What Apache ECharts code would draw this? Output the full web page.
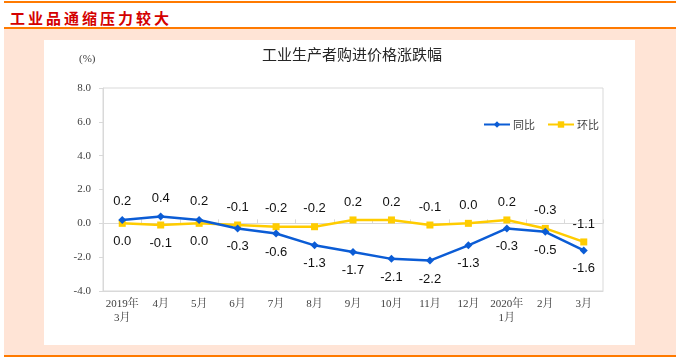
<!DOCTYPE html>
<html>
<head>
<meta charset="utf-8">
<script src="https://cdn.jsdelivr.net/npm/echarts@6/dist/echarts.min.js"></script>
<style>
  html, body { margin: 0; padding: 0; background: #ffffff; }
  #wrap { position: relative; width: 681px; height: 360px; overflow: hidden; background: #ffffff; }
  .line { position: absolute; background: #ff7a00; }
  #peach { position: absolute; left: 4px; top: 29px; width: 672px; height: 326px; background: #ffe4d6; }
  #panel { position: absolute; left: 44px; top: 40px; width: 591px; height: 305px; background: #ffffff; }
  #head { position: absolute; left: 10px; top: 8px; font-family: "Noto Sans CJK SC", sans-serif; font-weight: bold; font-size: 15px; line-height: 20px; letter-spacing: 3px; color: #d40000; }
  #chart { position: absolute; left: 0; top: 0; width: 681px; height: 360px; }
</style>
</head>
<body>
<div id="wrap">
  <div class="line" style="left:4px;top:1px;width:672px;height:2px;"></div>
  <div id="head">工业品通缩压力较大</div>
  <div class="line" style="left:4px;top:27px;width:672px;height:2px;"></div>
  <div id="peach"></div>
  <div id="panel"></div>
  <div class="line" style="left:4px;top:355px;width:672px;height:2px;"></div>
  <div id="chart"></div>
</div>
<script>
// Data
var categories = ['2019年\n3月', '4月', '5月', '6月', '7月', '8月', '9月', '10月', '11月', '12月', '2020年\n1月', '2月', '3月'];
var yoy = [0.2, 0.4, 0.2, -0.3, -0.6, -1.3, -1.7, -2.1, -2.2, -1.3, -0.3, -0.5, -1.6];   // 同比
var mom = [0.0, -0.1, 0.0, -0.1, -0.2, -0.2, 0.2, 0.2, -0.1, 0.0, 0.2, -0.3, -1.1];       // 环比
var seriesNames = ['同比', '环比'];
var chartTitle = '工业生产者购进价格涨跌幅';
var unitLabel = '(%)';

function withLabels(vals, other) {
  return vals.map(function (v, i) {
    return { value: v, label: { position: v >= other[i] ? 'top' : 'bottom' } };
  });
}

var chart = echarts.init(document.getElementById('chart'), null, { renderer: 'canvas' });
var serif = '"Liberation Serif", "Noto Serif CJK SC", "Noto Sans CJK SC", serif';
var labelStyle = {
  show: true, fontSize: 13, color: '#111', distance: 8,
  fontFamily: '"Liberation Sans", Arial, sans-serif',
  formatter: function (p) { return p.value.toFixed(1); }
};

chart.setOption({
  backgroundColor: 'transparent',
  animation: false,
  graphic: [
    { type: 'text', left: 356 - 94, top: 47, style: { text: chartTitle, fontSize: 15, fill: '#262626', fontFamily: '"Noto Sans CJK SC", sans-serif' } },
    { type: 'text', left: 79, top: 54, style: { text: unitLabel, fontSize: 11, fill: '#404040', fontFamily: serif } }
  ],
  legend: {
    left: 478, top: 114, itemWidth: 26, itemHeight: 8, itemGap: 12,
    textStyle: { fontSize: 11, color: '#404040', fontFamily: '"Noto Sans CJK SC", sans-serif', padding: [0, 0, 0, -2] },
    data: seriesNames
  },
  grid: { left: 103, top: 88, right: 78, bottom: 69, show: true, borderColor: '#d9d9d9', borderWidth: 1, backgroundColor: 'transparent' },
  xAxis: [
    {
      type: 'category', data: categories, position: 'bottom',
      axisLine: { onZero: false, lineStyle: { color: '#d9d9d9' } },
      axisTick: { show: false },
      axisLabel: { interval: 0, hideOverlap: false, color: '#404040', fontSize: 11, fontFamily: serif, margin: 6, lineHeight: 14 }
    },
    {
      type: 'category', data: categories, position: 'bottom',
      axisLine: { onZero: true, lineStyle: { color: '#d9d9d9' } },
      axisTick: { show: true, inside: true, length: 4, interval: 0, lineStyle: { color: '#d9d9d9' } },
      axisLabel: { show: false }
    }
  ],
  yAxis: {
    type: 'value', min: -4, max: 8, interval: 2,
    axisLine: { show: true, lineStyle: { color: '#d9d9d9' } },
    axisTick: { show: true, length: 4, lineStyle: { color: '#d9d9d9' } },
    splitLine: { show: false },
    axisLabel: { color: '#404040', fontSize: 11, fontFamily: serif, margin: 12, formatter: function (v) { return v.toFixed(1); } }
  },
  series: [
    {
      name: seriesNames[0], type: 'line', data: withLabels(yoy, mom),
      symbol: 'diamond', symbolSize: 8, showAllSymbol: true,
      itemStyle: { color: '#0b5cd5' }, lineStyle: { color: '#0b5cd5', width: 2.5 },
      label: labelStyle, z: 3
    },
    {
      name: seriesNames[1], type: 'line', data: withLabels(mom, yoy),
      symbol: 'rect', symbolSize: 7, showAllSymbol: true,
      itemStyle: { color: '#ffcc00' }, lineStyle: { color: '#ffcc00', width: 2.5 },
      label: labelStyle, z: 2
    }
  ]
});
</script>
</body>
</html>
